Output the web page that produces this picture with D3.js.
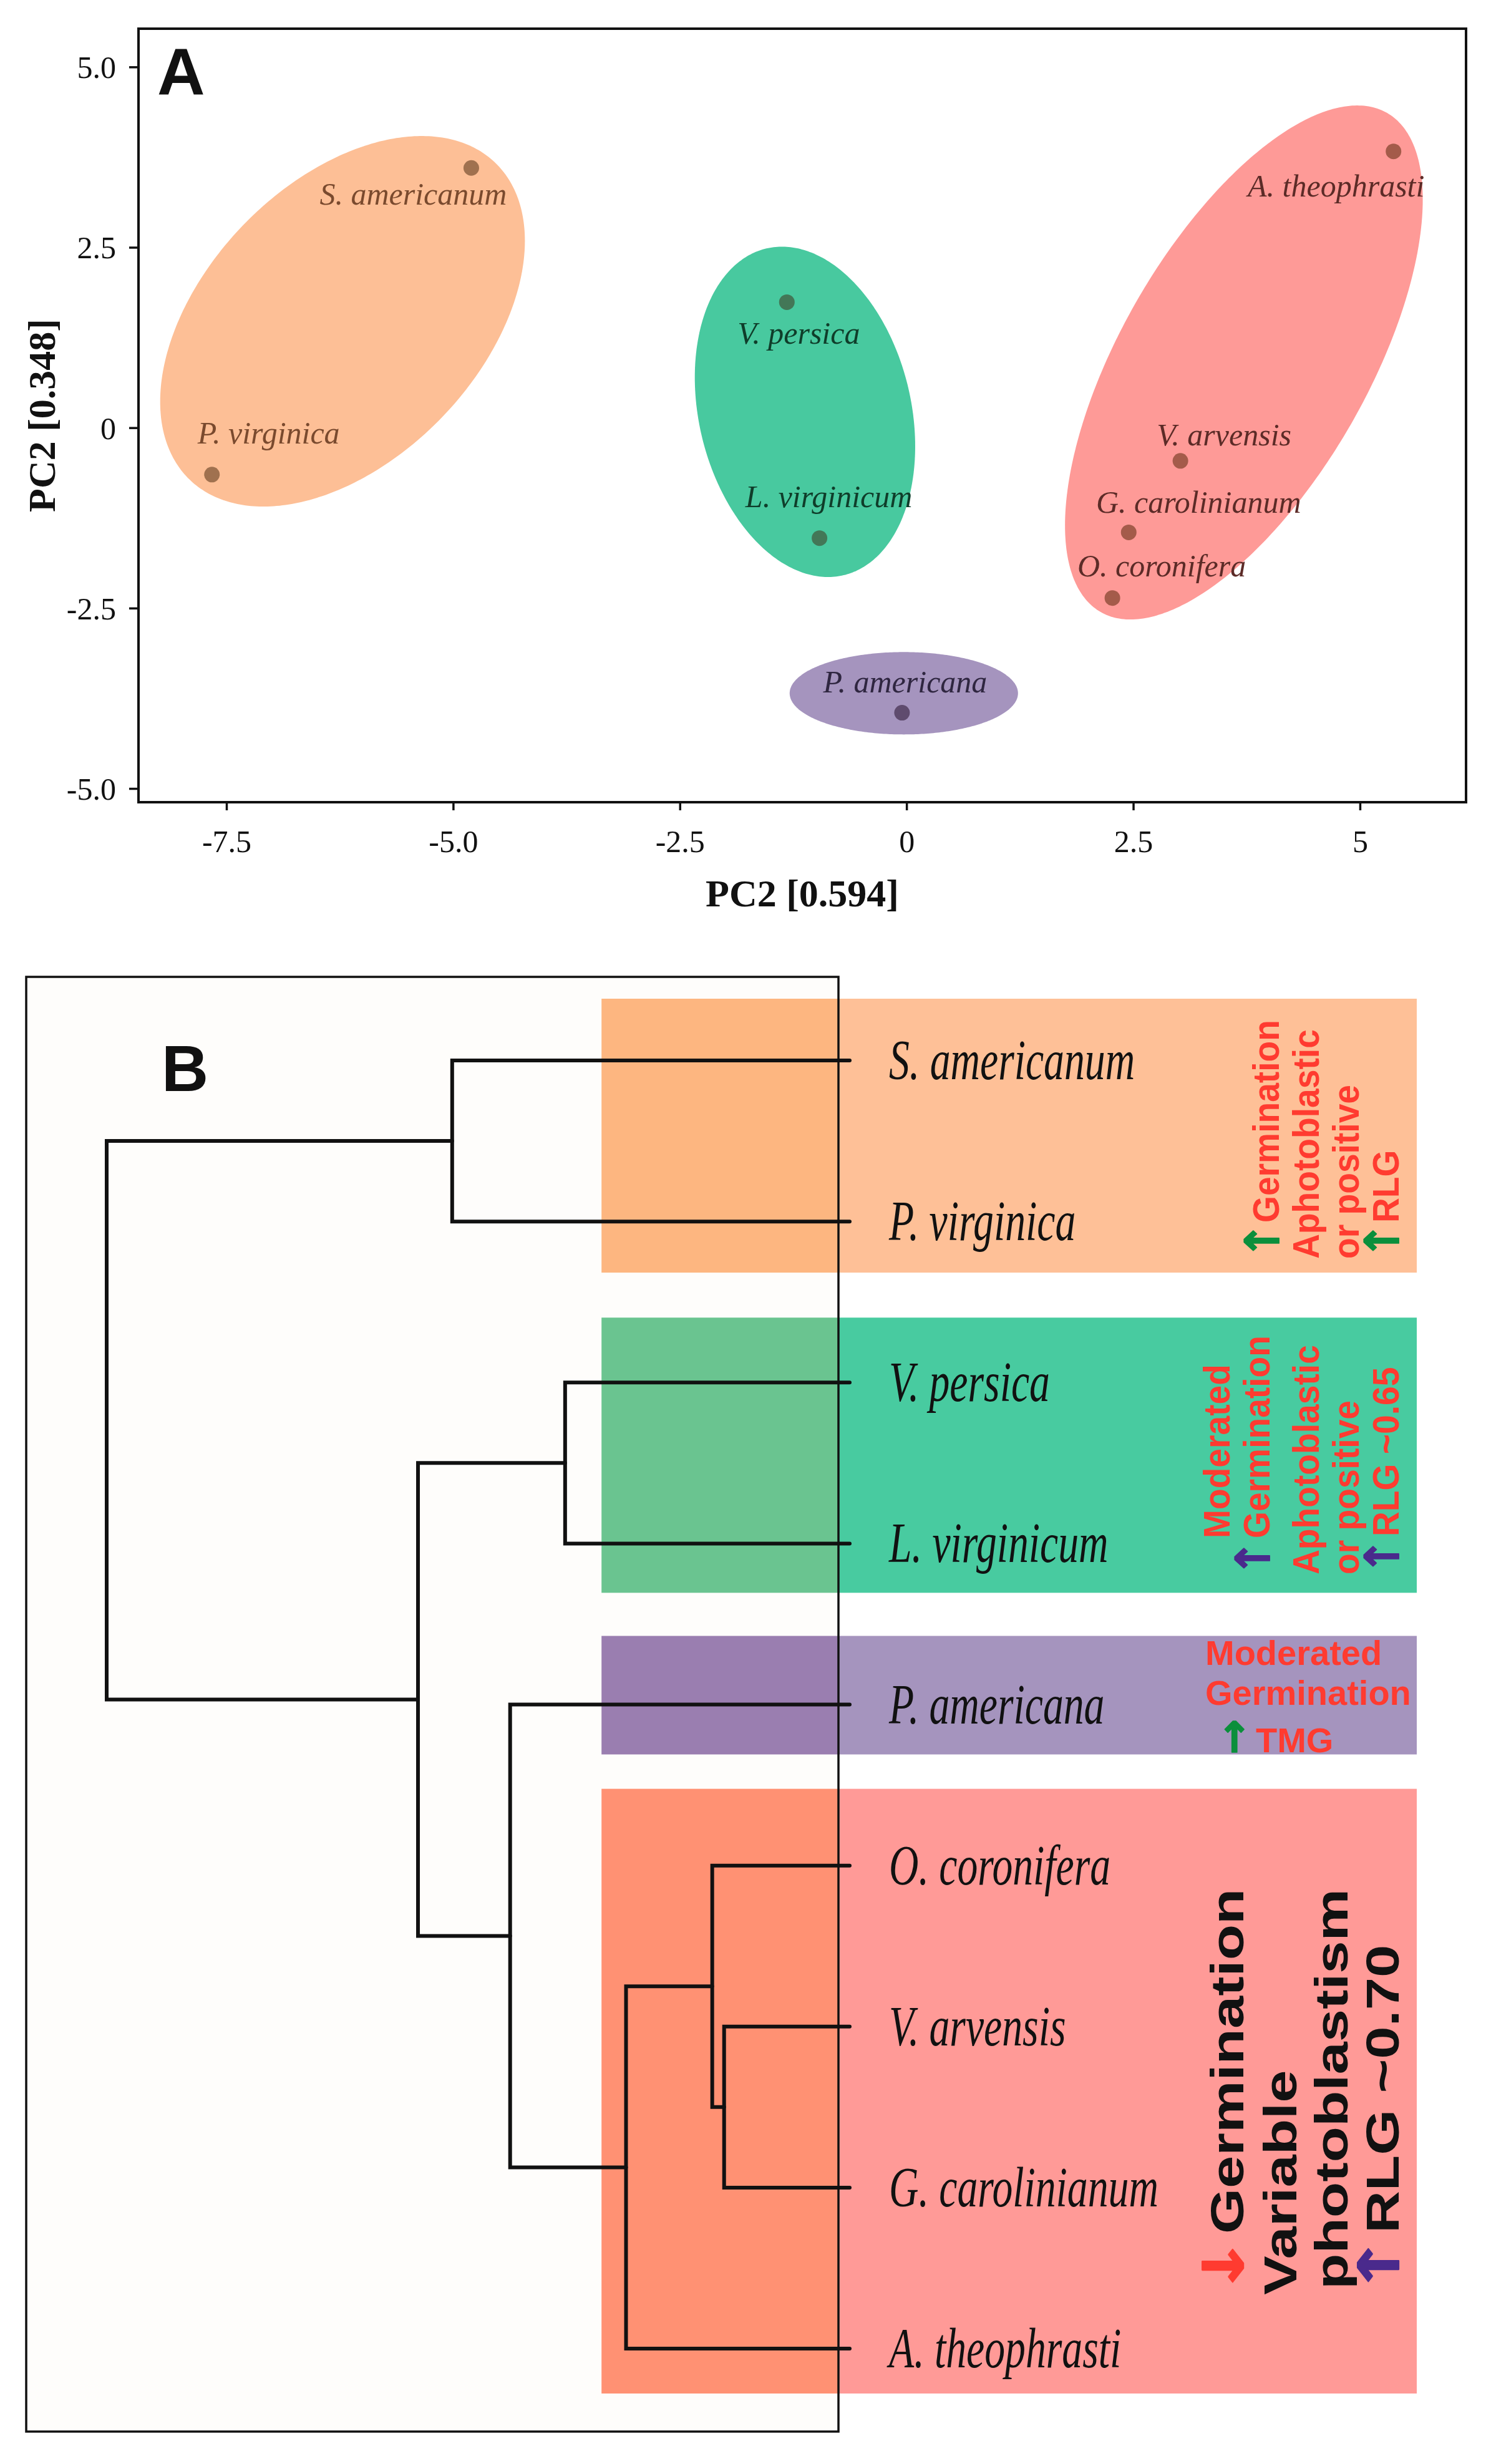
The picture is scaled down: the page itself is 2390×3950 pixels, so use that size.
<!DOCTYPE html>
<html><head><meta charset="utf-8">
<script src="https://cdn.jsdelivr.net/npm/d3@7"></script>
<style>body{margin:0;background:#fff}</style>
</head><body><svg id="c" width="2390" height="3950" xmlns="http://www.w3.org/2000/svg"></svg>
<script>
// ================= DATA =================
// species (also the leaf order of the dendrogram)
const species = ["S. americanum","P. virginica","V. persica","L. virginicum","P. americana","O. coronifera","V. arvensis","G. carolinianum","A. theophrasti"];
const pc1 = [-4.80,-7.66,-1.32,-0.96,-0.05,2.27,3.02,2.45,5.37];
const pc2 = [3.60,-0.65,1.74,-1.53,-3.95,-2.36,-0.46,-1.45,3.83];
const group = ["g1","g1","g2","g2","g3","g4","g4","g4","g4"];
const groups = ["g1","g2","g3","g4"];
// group ellipses in data units: centre and two conjugate semi-axis vectors
const ellCx = [-6.22,-1.12,-0.03,3.72];
const ellCy = [1.475,0.22,-3.68,0.904];
const ellU = [[1.69,2.19],[-0.426,2.264],[1.259,0],[1.58,3.458]];
const ellV = [[1.09,-1.34],[1.138,0.338],[0,0.571],[1.181,-0.854]];
const xTicks = [-7.5,-5.0,-2.5,0,2.5,5];
const xTickLabels = ["-7.5","-5.0","-2.5","0","2.5","5"];
const yTicks = [5.0,2.5,0,-2.5,-5.0];
const yTickLabels = ["5.0","2.5","0","-2.5","-5.0"];
const xTitle = "PC2 [0.594]";
const yTitle = "PC2 [0.348]";

// dendrogram merges (hclust style: negative = leaf index (1-based), positive = earlier merge)
const mergeA = [-7,-6,2,-3,-5,-1,4,6];
const mergeB = [-8,1,-9,-4,3,-2,5,7];
const mergeHeight = [1.69,1.85,3.01,3.83,4.57,5.35,5.81,10.0];
// clusters: first and last leaf index
const clusterFirst = [0,2,4,5];
const clusterLast = [1,3,4,8];

// annotations [arrow, text]
const notes1 = [["↑","Germination"],["","Aphotoblastic"],["","or positive"],["↑","RLG"]];
const notes2 = [["","Moderated"],["↑","Germination"],["","Aphotoblastic"],["","or positive"],["↑","RLG ~0.65"]];
const notes3 = [["","Moderated"],["","Germination"],["↑","TMG"]];
const notes4 = [["↓","Germination"],["","Variable"],["","photoblastism"],["↑","RLG ~0.70"]];

// ================= STYLE / LAYOUT =================
const SERIF = "'Liberation Serif','Times New Roman',serif";
const SANS = "'Liberation Sans',Arial,Helvetica,sans-serif";
const ARROWFONT = "'DejaVu Sans',sans-serif";
const INK = "#111";
const ellFill = {g1:"#fdbf96", g2:"#48c99f", g3:"#a594be", g4:"#fe9a97"};
const ptFill  = {g1:"#a0714f", g2:"#437757", g3:"#5f4b6e", g4:"#a45b4a"};
const lblFill = {g1:"#7a4a2e", g2:"#0f3d2a", g3:"#2f2640", g4:"#5c2b27"};
const labelOffset = [[-93,59],[91,-50],[19,67],[15,-50],[5,-33],[79,-35],[70,-25],[112,-31],[-92,72]];
const rectOut = ["#fec097","#48cba0","#a594be","#ff9a97"];
const rectIn  = ["#fdb680","#6ac490","#9a7eb0","#ff9173"];
const padTop = [99,104,110,123], padBot = [82,79,80,72];
const RED = "#ff3b30", GREEN = "#0b8f3c", PURPLE = "#4a2a8c";

const svg = d3.select("#c");
svg.append("rect").attr("width",2390).attr("height",3950).attr("fill","#fff");

// ================= PANEL A =================
const A = {l:222, r:2350, t:46, b:1286};
const x = d3.scaleLinear().domain([-8.47, 6.17]).range([A.l, A.r]);
const y = d3.scaleLinear().domain([-5.19, 5.53]).range([A.b, A.t]);
const gA = svg.append("g");

const line = d3.line().curve(d3.curveLinearClosed);
groups.forEach((g,i)=>{
  const pts = d3.range(360).map(k=>{
    const t = k/360*2*Math.PI;
    return [x(ellCx[i] + ellU[i][0]*Math.cos(t) + ellV[i][0]*Math.sin(t)),
            y(ellCy[i] + ellU[i][1]*Math.cos(t) + ellV[i][1]*Math.sin(t))];
  });
  gA.append("path").attr("d", line(pts)).attr("fill", ellFill[g]);
});

species.forEach((s,i)=>{
  gA.append("circle").attr("cx",x(pc1[i])).attr("cy",y(pc2[i])).attr("r",12.5).attr("fill",ptFill[group[i]]);
  gA.append("text").attr("x",x(pc1[i])+labelOffset[i][0]).attr("y",y(pc2[i])+labelOffset[i][1])
    .attr("text-anchor","middle").attr("font-family",SERIF).attr("font-style","italic")
    .attr("font-size",50).attr("fill",lblFill[group[i]]).text(s);
});

// axes
const gx = gA.append("g").attr("transform",`translate(0,${A.b})`)
  .call(d3.axisBottom(x).tickValues(xTicks).tickFormat((d,i)=>xTickLabels[i]).tickSize(13).tickSizeOuter(0));
gx.select(".domain").remove();
gx.selectAll(".tick line").attr("stroke",INK).attr("stroke-width",3.5);
gx.selectAll(".tick text").attr("y",62).attr("dy","0.35em").attr("font-family",SERIF).attr("font-size",50).attr("fill",INK);

const gy = gA.append("g").attr("transform",`translate(${A.l},0)`)
  .call(d3.axisLeft(y).tickValues(yTicks).tickFormat((d,i)=>yTickLabels[i]).tickSize(15).tickSizeOuter(0));
gy.select(".domain").remove();
gy.selectAll(".tick line").attr("stroke",INK).attr("stroke-width",3.5);
gy.selectAll(".tick text").attr("x",-36).attr("dy","0.35em").attr("font-family",SERIF).attr("font-size",50).attr("fill",INK);

gA.append("rect").attr("x",A.l).attr("y",A.t).attr("width",A.r-A.l).attr("height",A.b-A.t)
  .attr("fill","none").attr("stroke",INK).attr("stroke-width",4);

gA.append("text").attr("x",(A.l+A.r)/2).attr("y",1453).attr("text-anchor","middle")
  .attr("font-family",SERIF).attr("font-weight","bold").attr("font-size",62).attr("fill",INK).text(xTitle);
gA.append("text").attr("transform",`translate(88,${(A.t+A.b)/2}) rotate(-90)`).attr("text-anchor","middle")
  .attr("font-family",SERIF).attr("font-weight","bold").attr("font-size",62).attr("fill",INK).text(yTitle);

gA.append("text").attr("x",252).attr("y",152).attr("font-family",SANS).attr("font-weight","bold")
  .attr("font-size",106).attr("fill",INK).text("A");

// ================= PANEL B =================
const B = {l:42, r:1344, t:1566, b:3898};
const hD = d3.scaleLinear().domain([0,10]).range([1362,171]);
const yB = d3.scalePoint().domain(species).range([1700,3765]);
const gB = svg.append("g");

gB.append("rect").attr("x",B.l).attr("y",B.t).attr("width",B.r-B.l).attr("height",B.b-B.t).attr("fill","#fefdfb");

const rectL = hD(3.34), rectR = 2271;
clusterFirst.forEach((f,i)=>{
  const top = yB(species[f]) - padTop[i], bot = yB(species[clusterLast[i]]) + padBot[i];
  gB.append("rect").attr("x",rectL).attr("y",top).attr("width",B.r-rectL).attr("height",bot-top).attr("fill",rectIn[i]);
  gB.append("rect").attr("x",B.r).attr("y",top).attr("width",rectR-B.r).attr("height",bot-top).attr("fill",rectOut[i]);
});

gB.append("rect").attr("x",B.l).attr("y",B.t).attr("width",B.r-B.l).attr("height",B.b-B.t)
  .attr("fill","none").attr("stroke",INK).attr("stroke-width",3.5);

// dendrogram
const mY = [];
mergeA.forEach((a,k)=>{
  const b = mergeB[k];
  const ya = a<0 ? yB(species[-a-1]) : mY[a-1];
  const yb = b<0 ? yB(species[-b-1]) : mY[b-1];
  const xa = a<0 ? hD(0) : hD(mergeHeight[a-1]);
  const xb = b<0 ? hD(0) : hD(mergeHeight[b-1]);
  const xp = hD(mergeHeight[k]);
  mY[k] = (ya+yb)/2;
  const p = d3.path(); p.moveTo(xa,ya); p.lineTo(xp,ya); p.lineTo(xp,yb); p.lineTo(xb,yb);
  gB.append("path").attr("d",p.toString()).attr("fill","none").attr("stroke",INK)
    .attr("stroke-width",6).attr("stroke-linecap","round").attr("stroke-linejoin","miter");
});

species.forEach(s=>{
  gB.append("text").attr("transform",`translate(1425,${yB(s)+30}) scale(0.73,1)`)
    .attr("font-family",SERIF).attr("font-style","italic").attr("font-size",90).attr("fill",INK).text(s);
});

gB.append("text").attr("x",259).attr("y",1749).attr("font-family",SANS).attr("font-weight","bold")
  .attr("font-size",104).attr("fill",INK).text("B");

function arrowSpan(t, ch, color, size, xPos){
  t.append("tspan").attr("x",xPos).attr("fill",color).attr("stroke",color).attr("stroke-width",size*0.025)
    .attr("stroke-linejoin","round").attr("font-family",ARROWFONT).attr("font-weight","bold")
    .attr("font-size",size).text(ch);
}
function rotNote(lines, cols, starts, size, stretch, gap, txtColor, arrowColors, arrowSize){
  lines.forEach((ln,i)=>{
    const t = gB.append("text").attr("transform",`translate(${cols[i]},${starts[i]}) rotate(-90) scale(${stretch},1)`)
      .attr("font-family",SANS).attr("font-weight","bold").attr("font-size",size);
    if (ln[0]) {
      arrowSpan(t, ln[0], arrowColors[i], arrowSize, 0);
      t.append("tspan").attr("x",gap/stretch).attr("fill",txtColor).text(ln[1]);
    } else {
      t.append("tspan").attr("x",0).attr("fill",txtColor).text(ln[1]);
    }
  });
}
rotNote(notes1,[2050,2114,2178,2242],[2018,2018,2018,2018],60,0.92,58,RED,[GREEN,null,null,GREEN],76);
rotNote(notes2,[1971,2035,2114,2178,2242],[2466,2527,2524,2524,2524],60,0.92,61,RED,[null,PURPLE,null,null,PURPLE],76);
rotNote(notes4,[1993,2078,2160,2242],[3680,3679,3670,3679],74,1.27,99,INK,[RED,null,null,PURPLE],90);

// purple cluster (horizontal)
const n3x = [1932,1932,1950], n3y = [2669,2733,2809];
notes3.forEach((ln,i)=>{
  const t = gB.append("text").attr("x",n3x[i]).attr("y",n3y[i]).attr("font-family",SANS)
    .attr("font-weight","bold").attr("font-size",56);
  if (ln[0]) {
    arrowSpan(t, ln[0], GREEN, 68, n3x[i]);
    t.append("tspan").attr("x",n3x[i]+63).attr("fill",RED).text(ln[1]);
  } else t.append("tspan").attr("fill",RED).text(ln[1]);
});
</script></body></html>
